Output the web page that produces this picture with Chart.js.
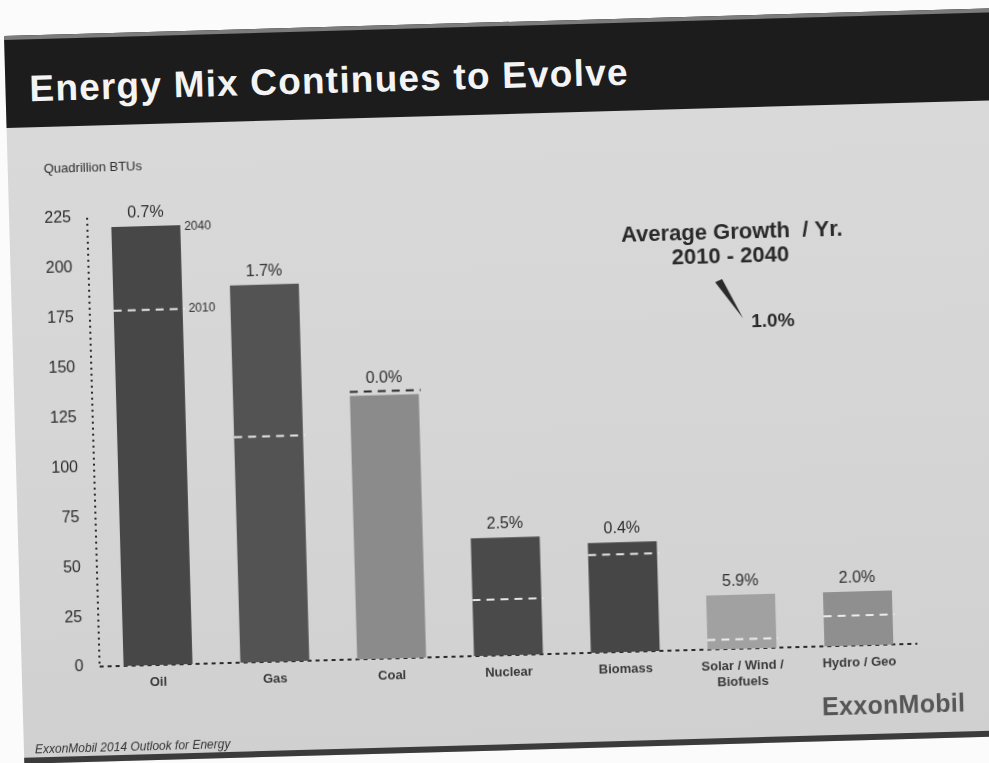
<!DOCTYPE html>
<html>
<head>
<meta charset="utf-8">
<title>Energy Mix Continues to Evolve</title>
<script src="https://cdn.jsdelivr.net/npm/chart.js@4.4.1/dist/chart.umd.min.js"></script>
<style>
  html, body { margin: 0; padding: 0; width: 989px; height: 763px; overflow: hidden; background: #fbfbfb; }
  body { font-family: "Liberation Sans", Arial, sans-serif; }
  /* the slide sits slightly tilted on the page */
  #slide {
    position: absolute; left: 4px; top: 36px; width: 1010px; height: 728px;
    background: linear-gradient(180deg, #dadada 0%, #d5d5d5 60%, #d0d0d0 100%);
    transform: rotate(-1.6deg); transform-origin: 0 0;
  }
  #band {
    position: absolute; left: 0; top: 0; width: 100%; height: 92px;
    background: #1c1c1c; border-top: 4px solid #7c7c7c; box-sizing: border-box;
  }
  #title {
    position: absolute; left: 24px; top: 35px; margin: 0;
    font-size: 37px; line-height: 37px; font-weight: bold; color: #f4f4f4; letter-spacing: 1.2px;
  }
  #chart-box { position: absolute; left: 0; top: 100px; width: 1000px; height: 620px; }
  #footer {
    position: absolute; left: 11px; top: 707px;
    font-size: 12px; font-style: italic; color: #333;
  }
  #logo {
    position: absolute; left: 799px; top: 679px;
    font-size: 25px; font-weight: bold; color: #565656; letter-spacing: 0.3px;
  }
  #bottom { position: absolute; left: 0; bottom: 0; width: 100%; height: 6px; background: #3b3b3b; }
</style>
</head>
<body>
<div id="slide">
  <div id="band"></div>
  <h1 id="title">Energy Mix Continues to Evolve</h1>
  <div id="chart-box"><canvas id="chart" width="1000" height="620"></canvas></div>
  <div id="logo">ExxonMobil</div>
  <div id="footer">ExxonMobil 2014 Outlook for Energy</div>
  <div id="bottom"></div>
</div>
<script>
// Fuentes de energía y demanda (cuatrillones de BTU)
var fuels = ['Oil', 'Gas', 'Coal', 'Nuclear', 'Biomass', ['Solar / Wind /', 'Biofuels'], 'Hydro / Geo'];
var use2040 = [220, 189, 132, 59, 55, 27, 27];
var use2010 = [178, 113, 134, 28, 49, 4.8, 15];
var growth = ['0.7', '1.7', '0.0', '2.5', '0.4', '5.9', '2.0'];
var yTicks = [0, 25, 50, 75, 100, 125, 150, 175, 200, 225];

var barColors = ['#474747', '#535353', '#8b8b8b', '#4a4a4a', '#464646', '#a1a1a1', '#8f8f8f'];
var font = '"Liberation Sans", Arial, sans-serif';

// Ejes punteados (el borde de Chart.js siempre sale continuo)
var dottedAxes = {
  id: 'dottedAxes',
  beforeDatasetsDraw: function (chart) {
    var ctx = chart.ctx;
    var a = chart.chartArea;
    ctx.save();
    ctx.strokeStyle = '#2a2a2a';
    ctx.lineWidth = 2;
    ctx.setLineDash([2, 4]);
    ctx.beginPath();
    ctx.moveTo(a.left, a.top);
    ctx.lineTo(a.left, a.bottom);
    ctx.stroke();
    ctx.setLineDash([4, 4]);
    ctx.beginPath();
    ctx.moveTo(a.left, a.bottom);
    ctx.lineTo(a.right, a.bottom);
    ctx.stroke();
    ctx.restore();
  }
};

// Líneas punteadas de 2010, etiquetas de crecimiento y la nota de promedio
var markers = {
  id: 'markers',
  afterDatasetsDraw: function (chart) {
    var ctx = chart.ctx;
    var y = chart.scales.y;
    var bars = chart.getDatasetMeta(0).data;
    ctx.save();
    bars.forEach(function (bar, i) {
      var half = bar.width / 2;
      var y10 = y.getPixelForValue(use2010[i]);
      ctx.setLineDash([8, 6]);
      ctx.lineWidth = 2;
      ctx.strokeStyle = use2010[i] < use2040[i] ? 'rgba(245,245,245,0.9)' : '#2a2a2a';
      ctx.beginPath();
      ctx.moveTo(bar.x - half, y10);
      ctx.lineTo(bar.x + half + 2, y10);
      ctx.stroke();

      ctx.setLineDash([]);
      ctx.fillStyle = '#2e2e2e';
      ctx.font = '16px ' + font;
      ctx.textAlign = 'center';
      ctx.textBaseline = 'alphabetic';
      ctx.fillText(growth[i] + '%', bar.x, Math.min(bar.y, y10) - 9);

      if (i === 0) {
        ctx.font = '12px ' + font;
        ctx.textAlign = 'left';
        ctx.textBaseline = 'middle';
        ctx.fillText('2040', bar.x + half + 4, bar.y + 2);
        ctx.fillText('2010', bar.x + half + 6, y10);
      }
    });

    // nota: crecimiento medio anual
    ctx.fillStyle = '#2a2a2a';
    ctx.textAlign = 'center';
    ctx.textBaseline = 'middle';
    ctx.font = 'bold 22px ' + font;
    ctx.fillText('Average Growth  / Yr.', 722, 117);
    ctx.fillText('2010 - 2040', 720, 141);
    ctx.beginPath();
    ctx.moveTo(704, 166);
    ctx.lineTo(711, 163);
    ctx.lineTo(731, 203);
    ctx.closePath();
    ctx.fill();
    ctx.textAlign = 'left';
    ctx.font = 'bold 19px ' + font;
    ctx.fillText('1.0%', 739, 207);
    ctx.restore();
  }
};

// Título del eje Y
var yTitle = {
  id: 'yTitle',
  afterDraw: function (chart) {
    var ctx = chart.ctx;
    ctx.save();
    ctx.fillStyle = '#2e2e2e';
    ctx.font = '13px ' + font;
    ctx.textAlign = 'left';
    ctx.textBaseline = 'middle';
    ctx.fillText('Quadrillion BTUs', 36, 34);
    ctx.restore();
  }
};

new Chart(document.getElementById('chart'), {
  type: 'bar',
  data: {
    labels: fuels,
    datasets: [{
      label: '2040',
      data: use2040,
      backgroundColor: barColors,
      borderWidth: 0,
      barPercentage: 0.59,
      categoryPercentage: 1
    }]
  },
  options: {
    responsive: false,
    animation: false,
    layout: { padding: { left: 0, right: 104, top: 84, bottom: 37 } },
    plugins: {
      legend: { display: false },
      tooltip: { enabled: false }
    },
    scales: {
      x: {
        grid: { display: false, drawTicks: false },
        border: { display: false },
        ticks: {
          padding: 10,
          color: '#3a3a3a',
          font: { family: font, size: 13, weight: 'bold' },
          maxRotation: 0
        },
        afterFit: function (s) { s.height = 50; }
      },
      y: {
        min: 0,
        max: 225,
        afterBuildTicks: function (s) {
          s.ticks = yTicks.map(function (v) { return { value: v }; });
        },
        grid: { display: false, drawTicks: false },
        border: { display: false },
        ticks: {
          padding: 16,
          color: '#2b2b2b',
          font: { family: font, size: 16 }
        },
        afterFit: function (s) { s.width = 78; }
      }
    }
  },
  plugins: [dottedAxes, markers, yTitle]
});
</script>
</body>
</html>
